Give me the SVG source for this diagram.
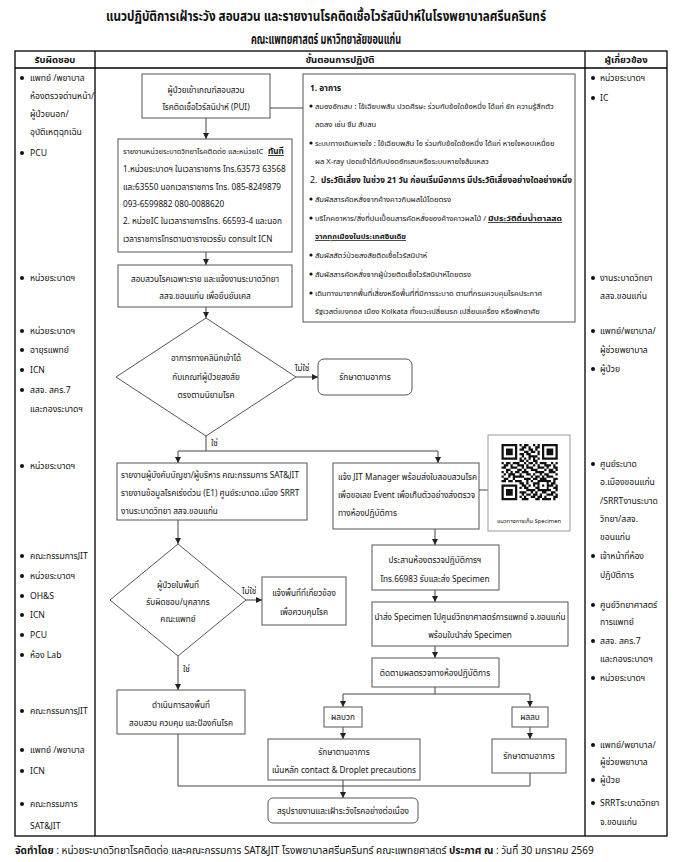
<svg xmlns="http://www.w3.org/2000/svg" width="678" height="862" viewBox="0 0 678 862">
<style>
text{font-family:"Noto Sans Thai","Noto Sans","DejaVu Sans",sans-serif;fill:#111;}
.ttl{font-size:13.5px;font-weight:bold;text-anchor:middle}
.hd{font-size:9.5px;font-weight:bold;text-anchor:middle}
.col{font-size:8.6px}
.bx{font-size:8.2px}
.rb{font-size:7.6px}
.c{text-anchor:middle}
.b{font-weight:bold}
.u{font-weight:bold;text-decoration:underline}
.box{fill:#fff;stroke:#555;stroke-width:1}
.tbl{fill:none;stroke:#000;stroke-width:1.3}
.ln{fill:none;stroke:#444;stroke-width:1}
.arr{fill:none;stroke:#444;stroke-width:1;marker-end:url(#ah)}
.dot{fill:#111}
</style>
<defs>
<marker id="ah" markerWidth="6" markerHeight="6" refX="6" refY="3" orient="auto" markerUnits="userSpaceOnUse"><path d="M0,0 L6,3 L0,6 z" fill="#222"/></marker>
</defs>
<rect width="678" height="862" fill="#fff"/>
<g id="title">
<text class="ttl" x="326" y="21" textLength="440" lengthAdjust="spacingAndGlyphs">แนวปฏิบัติการเฝ้าระวัง สอบสวน และรายงานโรคติดเชื้อไวรัสนิปาห์ในโรงพยาบาลศรีนครินทร์</text>
<text class="ttl" x="326" y="44" textLength="150" lengthAdjust="spacingAndGlyphs">คณะแพทยศาสตร์ มหาวิทยาลัยขอนแก่น</text>
</g>
<g id="table">
<rect class="tbl" x="15" y="51" width="652" height="785"/>
<line class="tbl" x1="15" y1="68" x2="667" y2="68"/>
<line class="tbl" x1="95" y1="51" x2="95" y2="836"/>
<line class="tbl" x1="585" y1="51" x2="585" y2="836"/>
<text class="hd" x="55" y="63">รับผิดชอบ</text>
<text class="hd" x="340" y="63">ขั้นตอนการปฏิบัติ</text>
<text class="hd" x="626" y="63">ผู้เกี่ยวข้อง</text>
</g>
<g id="responsible" class="col">
<circle class="dot" cx="22" cy="78" r="2"/><text x="30" y="81">แพทย์ /พยาบาล</text>
<text x="30" y="99">ห้องตรวจด่านหน้า/</text>
<text x="30" y="117">ผู้ป่วยนอก/</text>
<text x="30" y="135">อุบัติเหตุฉุกเฉิน</text>
<circle class="dot" cx="22" cy="153" r="2"/><text x="30" y="156">PCU</text>
<circle class="dot" cx="22" cy="278" r="2"/><text x="30" y="281">หน่วยระบาดฯ</text>
<circle class="dot" cx="22" cy="331" r="2"/><text x="30" y="334">หน่วยระบาดฯ</text>
<circle class="dot" cx="22" cy="350" r="2"/><text x="30" y="353">อายุรแพทย์</text>
<circle class="dot" cx="22" cy="370" r="2"/><text x="30" y="373">ICN</text>
<circle class="dot" cx="22" cy="390" r="2"/><text x="30" y="393">สสจ. สคร.7</text>
<text x="30" y="412">และกองระบาดฯ</text>
<circle class="dot" cx="22" cy="466" r="2"/><text x="30" y="469">หน่วยระบาดฯ</text>
<circle class="dot" cx="22" cy="556" r="2"/><text x="30" y="559">คณะกรรมการJIT</text>
<circle class="dot" cx="22" cy="576" r="2"/><text x="30" y="579">หน่วยระบาดฯ</text>
<circle class="dot" cx="22" cy="596" r="2"/><text x="30" y="599">OH&amp;S</text>
<circle class="dot" cx="22" cy="615" r="2"/><text x="30" y="618">ICN</text>
<circle class="dot" cx="22" cy="635" r="2"/><text x="30" y="638">PCU</text>
<circle class="dot" cx="22" cy="655" r="2"/><text x="30" y="658">ห้อง Lab</text>
<circle class="dot" cx="22" cy="711" r="2"/><text x="30" y="714">คณะกรรมการJIT</text>
<circle class="dot" cx="22" cy="750" r="2"/><text x="30" y="753">แพทย์ /พยาบาล</text>
<circle class="dot" cx="22" cy="771" r="2"/><text x="30" y="774">ICN</text>
<circle class="dot" cx="22" cy="804" r="2"/><text x="30" y="807">คณะกรรมการ</text>
<text x="30" y="829">SAT&amp;JIT</text>
</g>
<g id="related" class="col">
<circle class="dot" cx="593" cy="78" r="2"/><text x="600" y="81">หน่วยระบาดฯ</text>
<circle class="dot" cx="593" cy="98" r="2"/><text x="600" y="101">IC</text>
<circle class="dot" cx="593" cy="278" r="2"/><text x="600" y="281">งานระบาดวิทยา</text>
<text x="600" y="299">สสจ.ขอนแก่น</text>
<circle class="dot" cx="593" cy="331" r="2"/><text x="600" y="334">แพทย์/พยาบาล/</text>
<text x="600" y="353">ผู้ช่วยพยาบาล</text>
<circle class="dot" cx="593" cy="369" r="2"/><text x="600" y="372">ผู้ป่วย</text>
<circle class="dot" cx="593" cy="464" r="2"/><text x="600" y="467">ศูนย์ระบาด</text>
<text x="600" y="485">อ.เมืองขอนแก่น</text>
<text x="600" y="504">/SRRTงานระบาด</text>
<text x="600" y="522">วิทยา/สสจ.</text>
<text x="600" y="540">ขอนแก่น</text>
<circle class="dot" cx="593" cy="556" r="2"/><text x="600" y="559">เจ้าหน้าที่ห้อง</text>
<text x="600" y="578">ปฏิบัติการ</text>
<circle class="dot" cx="593" cy="605" r="2"/><text x="600" y="608">ศูนย์วิทยาศาสตร์</text>
<text x="600" y="625">การแพทย์</text>
<circle class="dot" cx="593" cy="641" r="2"/><text x="600" y="644">สสจ. สคร.7</text>
<text x="600" y="662">และกองระบาดฯ</text>
<circle class="dot" cx="593" cy="678" r="2"/><text x="600" y="681">หน่วยระบาดฯ</text>
<circle class="dot" cx="593" cy="745" r="2"/><text x="600" y="748">แพทย์/พยาบาล/</text>
<text x="600" y="765">ผู้ช่วยพยาบาล</text>
<circle class="dot" cx="593" cy="780" r="2"/><text x="600" y="783">ผู้ป่วย</text>
<circle class="dot" cx="593" cy="803" r="2"/><text x="600" y="806">SRRTระบาดวิทยา</text>
<text x="600" y="825">จ.ขอนแก่น</text>
</g>
<g id="connectors">
<line class="ln" x1="270" y1="108" x2="303" y2="108"/>
<line class="arr" x1="206" y1="118" x2="206" y2="139"/>
<line class="arr" x1="206" y1="252" x2="206" y2="265"/>
<line class="arr" x1="206" y1="307" x2="206" y2="318"/>
<line class="arr" x1="296" y1="377" x2="318" y2="377"/>
<polyline class="ln" points="206,436 206,451"/>
<line class="ln" x1="178" y1="451" x2="438" y2="451"/>
<line class="arr" x1="178" y1="451" x2="178" y2="463"/>
<line class="arr" x1="438" y1="451" x2="438" y2="463"/>
<line class="ln" x1="479" y1="490" x2="488" y2="490"/>
<line class="arr" x1="178" y1="520" x2="178" y2="544"/>
<line class="arr" x1="246" y1="600" x2="262" y2="600"/>
<line class="arr" x1="178" y1="656" x2="178" y2="690"/>
<line class="arr" x1="435" y1="529" x2="435" y2="545"/>
<line class="arr" x1="435" y1="590" x2="435" y2="602"/>
<line class="arr" x1="435" y1="646" x2="435" y2="658"/>
<line class="ln" x1="435" y1="687" x2="435" y2="694"/>
<line class="ln" x1="343" y1="694" x2="530" y2="694"/>
<line class="arr" x1="343" y1="694" x2="343" y2="707"/>
<line class="arr" x1="530" y1="694" x2="530" y2="707"/>
<line class="arr" x1="343" y1="727" x2="343" y2="739"/>
<line class="arr" x1="530" y1="727" x2="530" y2="739"/>
<polyline class="ln" points="178,734 178,786 530,786 530,773"/>
<line class="arr" x1="343" y1="780" x2="343" y2="798"/>
<text class="bx" x="295" y="371">ไม่ใช่</text>
<text class="bx" x="211" y="446">ใช่</text>
<text class="bx" x="242" y="594">ไม่ใช่</text>
<text class="bx" x="183" y="672">ใช่</text>
</g>
<g id="pui">
<rect class="box" x="142" y="74" width="128" height="44"/>
<text class="bx c" x="206" y="93">ผู้ป่วยเข้าเกณฑ์สอบสวน</text>
<text class="bx c" x="206" y="110">โรคติดเชื้อไวรัสนิปาห์ (PUI)</text>
</g>
<g id="criteria">
<rect class="box" x="303" y="74" width="272" height="248"/>
<g class="rb">
<text x="310" y="91" class="b" style="font-size:8.4px">1. อาการ</text>
<circle class="dot" cx="311" cy="106" r="1.6"/><text x="315" y="109">สมองอักเสบ : ไข้เฉียบพลัน ปวดศีรษะ ร่วมกับข้อใดข้อหนึ่ง ได้แก่ ชัก ความรู้สึกตัว</text>
<text x="315" y="127">ลดลง เช่น ซึม สับสน</text>
<circle class="dot" cx="311" cy="143" r="1.6"/><text x="315" y="146">ระบบทางเดินหายใจ  : ไข้เฉียบพลัน ไอ ร่วมกับข้อใดข้อหนึ่ง ได้แก่ หายใจหอบเหนื่อย</text>
<text x="315" y="164">ผล X-ray ปอดเข้าได้กับปอดอักเสบหรือระบบหายใจล้มเหลว</text>
<text x="310" y="183" style="font-size:8.8px">2.</text>
<text x="321" y="183" class="b" style="font-size:8.8px" textLength="251" lengthAdjust="spacingAndGlyphs">ประวัติเสี่ยง ในช่วง 21 วัน ก่อนเริ่มมีอาการ มีประวัติเสี่ยงอย่างใดอย่างหนึ่ง</text>
<circle class="dot" cx="311" cy="199" r="1.6"/><text x="315" y="202">สัมผัสสารคัดหลั่งจากค้างคาวกินผลไม้โดยตรง</text>
<circle class="dot" cx="311" cy="218" r="1.6"/><text x="315" y="221" textLength="171" lengthAdjust="spacingAndGlyphs">บริโภคอาหาร/สิ่งที่ปนเปื้อนสารคัดหลั่งของค้างคาวผลไม้ /</text>
<text x="488" y="221" class="u" textLength="74" lengthAdjust="spacingAndGlyphs">มีประวัติดื่มน้ำตาลสด</text>
<text x="315" y="239" class="u">จากทุกเมืองในประเทศอินเดีย</text>
<circle class="dot" cx="311" cy="255" r="1.6"/><text x="315" y="258">สัมผัสสัตว์ป่วยสงสัยติดเชื้อไวรัสนิปาห์</text>
<circle class="dot" cx="311" cy="274" r="1.6"/><text x="315" y="277">สัมผัสสารคัดหลั่งจากผู้ป่วยติดเชื้อไวรัสนิปาห์โดยตรง</text>
<circle class="dot" cx="311" cy="293" r="1.6"/><text x="315" y="296">เดินทางมาจากพื้นที่เสี่ยงหรือพื้นที่ที่มีการระบาด ตามที่กรมควบคุมโรคประกาศ</text>
<text x="315" y="314">รัฐเวสต์เบงกอล  เมือง Kolkata ทั้งแวะเปลี่ยนรถ เปลี่ยนเครื่อง หรือพักอาศัย</text>
</g>
</g>
<g id="report-unit">
<rect class="box" x="118" y="139" width="174" height="113"/>
<g class="bx">
<text x="123" y="154" style="font-size:7.5px">รายงานหน่วยระบาดวิทยาโรคติดต่อ และหน่วยIC</text>
<text x="268" y="154" class="u">ทันที</text>
<text x="123" y="172">1.หน่วยระบาดฯ ในเวลาราชการ โทร.63573  63568</text>
<text x="123" y="190">และ63550 นอกเวลาราชการ โทร. 085-8249879</text>
<text x="123" y="207">093-6599882 080-0088620</text>
<text x="123" y="224">2. หน่วยIC ในเวลาราชการโทร. 66593-4  และนอก</text>
<text x="123" y="242">เวลาราชการโทรตามตารางเวรรับ consult ICN</text>
</g>
</g>
<g id="investigate">
<rect class="box" x="118" y="265" width="174" height="42"/>
<text class="bx c" x="205" y="282">สอบสวนโรคเฉพาะราย และแจ้งงานระบาดวิทยา</text>
<text class="bx c" x="205" y="299">สสจ.ขอนแก่น เพื่อยืนยันเคส</text>
</g>
<g id="decision1">
<polygon class="box" points="206,318 296,377 206,436 116,377"/>
<text class="bx c" x="206" y="361">อาการทางคลินิกเข้าได้</text>
<text class="bx c" x="206" y="380">กับเกณฑ์ผู้ป่วยสงสัย</text>
<text class="bx c" x="206" y="398">ตรงตามนิยามโรค</text>
</g>
<g id="treat1">
<rect class="box" x="318" y="359" width="94" height="36" rx="6"/>
<text class="bx c" x="365" y="380">รักษาตามอาการ</text>
</g>
<g id="report-exec">
<rect class="box" x="117" y="463" width="190" height="57"/>
<text class="bx" x="121" y="478">รายงานผู้บังคับบัญชา/ผู้บริหาร คณะกรรมการ SAT&amp;JIT</text>
<text class="bx" x="121" y="496">รายงานข้อมูลโรคเร่งด่วน (E1) ศูนย์ระบาดอ.เมือง SRRT</text>
<text class="bx" x="121" y="514">งานระบาดวิทยา สสจ.ขอนแก่น</text>
</g>
<g id="jit">
<rect class="box" x="333" y="463" width="146" height="66"/>
<text class="bx" x="338" y="480">แจ้ง JIT Manager พร้อมส่งใบสอบสวนโรค</text>
<text class="bx" x="338" y="498">เพื่อขอเลข Event เพื่อเก็บตัวอย่างส่งตรวจ</text>
<text class="bx" x="338" y="516">ทางห้องปฏิบัติการ</text>
</g>
<g id="qr">
<rect x="488" y="435" width="82" height="96" fill="#fff" stroke="#999" stroke-width="1"/>
<g transform="translate(501.5,444) scale(2.25)" fill="#111">
<path fill-rule="evenodd" d="M0 0h7v7h-7z M1 1v5h5v-5z M2 2h3v3h-3z M18 0h7v7h-7z M19 1v5h5v-5z M20 2h3v3h-3z M0 18h7v7h-7z M1 19v5h5v-5z M2 20h3v3h-3z"/>
<path d="M8 0h1v1h-1z M10 0h2v1h-2z M14 0h1v1h-1z M16 0h1v1h-1z
M9 1h2v1h-2z M12 1h1v1h-1z M15 1h2v1h-2z
M8 2h2v1h-2z M12 2h2v1h-2z M15 2h1v1h-1z
M10 3h2v1h-2z M13 3h2v1h-2z M16 3h1v1h-1z
M8 4h2v1h-2z M11 4h2v1h-2z M16 4h1v1h-1z
M9 5h1v1h-1z M12 5h4v1h-4z
M8 6h1v1h-1z M10 6h1v1h-1z M12 6h1v1h-1z M14 6h1v1h-1z M16 6h1v1h-1z
M8 7h2v1h-2z M11 7h1v1h-1z M14 7h2v1h-2z
M0 8h1v1h-1z M2 8h2v1h-2z M5 8h3v1h-3z M10 8h1v1h-1z M12 8h2v1h-2z M15 8h1v1h-1z M17 8h3v1h-3z M22 8h1v1h-1z M24 8h1v1h-1z
M1 9h2v1h-2z M4 9h1v1h-1z M7 9h3v1h-3z M11 9h1v1h-1z M14 9h1v1h-1z M16 9h1v1h-1z M19 9h3v1h-3z M23 9h1v1h-1z
M0 10h2v1h-2z M4 10h3v1h-3z M9 10h1v1h-1z M11 10h3v1h-3z M16 10h3v1h-3z M20 10h1v1h-1z M23 10h2v1h-2z
M2 11h2v1h-2z M7 11h2v1h-2z M10 11h1v1h-1z M13 11h3v1h-3z M19 11h1v1h-1z M21 11h2v1h-2z M24 11h1v1h-1z
M0 12h1v1h-1z M2 12h1v1h-1z M4 12h1v1h-1z M6 12h2v1h-2z M9 12h3v1h-3z M15 12h4v1h-4z M21 12h3v1h-3z
M1 13h1v1h-1z M3 13h3v1h-3z M8 13h1v1h-1z M11 13h2v1h-2z M14 13h1v1h-1z M17 13h1v1h-1z M19 13h2v1h-2z M24 13h1v1h-1z
M0 14h1v1h-1z M3 14h1v1h-1z M5 14h5v1h-5z M13 14h1v1h-1z M15 14h2v1h-2z M18 14h1v1h-1z M20 14h3v1h-3z
M1 15h2v1h-2z M5 15h1v1h-1z M10 15h3v1h-3z M14 15h2v1h-2z M17 15h3v1h-3z M23 15h2v1h-2z
M0 16h2v1h-2z M3 16h2v1h-2z M6 16h3v1h-3z M11 16h1v1h-1z M13 16h1v1h-1z M16 16h6v1h-6z M23 16h1v1h-1z
M8 17h2v1h-2z M11 17h1v1h-1z M14 17h3v1h-3z M20 17h1v1h-1z M22 17h2v1h-2z
M9 18h2v1h-2z M12 18h1v1h-1z M14 18h1v1h-1z M16 18h1v1h-1z M18 18h1v1h-1z M20 18h3v1h-3z M24 18h1v1h-1z
M8 19h1v1h-1z M10 19h2v1h-2z M15 19h2v1h-2z M20 19h1v1h-1z M23 19h2v1h-2z
M11 20h4v1h-4z M16 20h6v1h-6z M24 20h1v1h-1z
M8 21h3v1h-3z M13 21h1v1h-1z M15 21h1v1h-1z M18 21h2v1h-2z M22 21h2v1h-2z
M9 22h1v1h-1z M11 22h2v1h-2z M14 22h2v1h-2z M17 22h1v1h-1z M20 22h3v1h-3z M24 22h1v1h-1z
M8 23h1v1h-1z M10 23h1v1h-1z M13 23h2v1h-2z M16 23h2v1h-2z M19 23h1v1h-1z M23 23h2v1h-2z
M9 24h3v1h-3z M15 24h2v1h-2z M18 24h4v1h-4z M23 24h1v1h-1z"/>
<path fill="#fff" d="M17 17h3v3h-3z"/>
<path d="M18 18h1v1h-1z"/>
</g>
<text x="529" y="523" class="c" style="font-size:5.8px">แนวทางการเก็บ Specimen</text>
</g>
<g id="decision2">
<polygon class="box" points="178,544 246,600 178,656 110,600"/>
<text class="bx c" x="178" y="588">ผู้ป่วยในพื้นที่</text>
<text class="bx c" x="178" y="605">รับผิดชอบ/บุคลากร</text>
<text class="bx c" x="178" y="622">คณะแพทย์</text>
</g>
<g id="notify-area">
<rect class="box" x="262" y="577" width="84" height="48"/>
<text class="bx c" x="304" y="596">แจ้งพื้นที่ที่เกี่ยวข้อง</text>
<text class="bx c" x="304" y="615">เพื่อควบคุมโรค</text>
</g>
<g id="field-action">
<rect class="box" x="117" y="690" width="128" height="44"/>
<text class="bx c" x="181" y="708">ดำเนินการลงพื้นที่</text>
<text class="bx c" x="181" y="726">สอบสวน ควบคุม และป้องกันโรค</text>
</g>
<g id="lab-coord">
<rect class="box" x="372" y="545" width="127" height="45"/>
<text class="bx c" x="435" y="563">ประสานห้องตรวจปฏิบัติการฯ</text>
<text class="bx c" x="435" y="582">โทร.66983 รับและส่ง Specimen</text>
</g>
<g id="send-specimen">
<rect class="box" x="372" y="602" width="196" height="44"/>
<text class="bx c" x="470" y="620">นำส่ง Specimen ไปศูนย์วิทยาศาสตร์การแพทย์ จ.ขอนแก่น</text>
<text class="bx c" x="470" y="638">พร้อมใบนำส่ง Specimen</text>
</g>
<g id="follow-lab">
<rect class="box" x="372" y="658" width="127" height="29"/>
<text class="bx c" x="435" y="676">ติดตามผลตรวจทางห้องปฏิบัติการ</text>
</g>
<g id="positive">
<rect class="box" x="324" y="707" width="38" height="20"/>
<text class="bx c" x="343" y="720">ผลบวก</text>
</g>
<g id="negative">
<rect class="box" x="512" y="707" width="36" height="20"/>
<text class="bx c" x="530" y="720">ผลลบ</text>
</g>
<g id="treat-positive">
<rect class="box" x="268" y="739" width="152" height="41"/>
<text class="bx c" x="344" y="755">รักษาตามอาการ</text>
<text class="bx c" x="344" y="773">เน้นหลัก contact &amp; Droplet precautions</text>
</g>
<g id="treat-negative">
<rect class="box" x="492" y="739" width="74" height="34"/>
<text class="bx c" x="529" y="759">รักษาตามอาการ</text>
</g>
<g id="summary">
<rect class="box" x="268" y="798" width="150" height="25" rx="5"/>
<text class="bx c" x="343" y="814">สรุปรายงานและเฝ้าระวังโรคอย่างต่อเนื่อง</text>
</g>
<g id="footer">
<text x="15" y="854" style="font-size:10px"><tspan class="b">จัดทำโดย</tspan> : หน่วยระบาดวิทยาโรคติดต่อ และคณะกรรมการ SAT&amp;JIT โรงพยาบาลศรีนครินทร์ คณะแพทยศาสตร์  <tspan class="b">ประกาศ ณ</tspan> : วันที่ 30 มกราคม 2569</text>
</g>
</svg>
